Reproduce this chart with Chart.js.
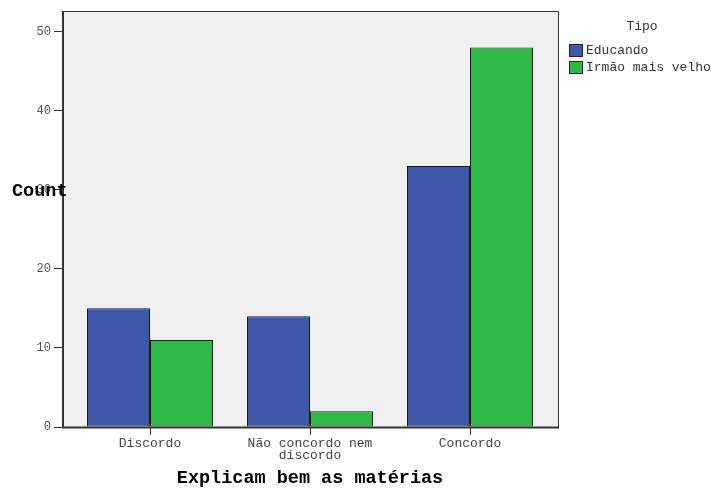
<!DOCTYPE html>
<html>
<head>
<meta charset="utf-8">
<script src="https://cdn.jsdelivr.net/npm/chart.js@4"></script>
<style>
  html, body { margin: 0; padding: 0; background: #fff; }
</style>
</head>
<body>
<canvas id="myChart" width="719" height="491"></canvas>
<script>
const categories = ["Discordo", ["Não concordo nem", "discordo"], "Concordo"];
const seriesNames = ["Educando", "Irmão mais velho"];
const educando = [15, 14, 33];
const irmao = [11, 2, 48];
const seriesColors = ["#3e58ac", "#2eb848"];
const yTicks = [0, 10, 20, 30, 40, 50];

const mono = '"Liberation Mono", "Courier New", monospace';
Chart.defaults.font.family = mono;

// plot frame sits 8px outside the category band, like the original
const framePad = 8;

const framePlugin = {
  id: "frame",
  beforeDraw(chart) {
    const ctx = chart.ctx;
    ctx.save();
    ctx.fillStyle = "#fff";
    ctx.fillRect(0, 0, chart.width, chart.height);
    ctx.restore();
  },
  beforeDatasetsDraw(chart) {
    const { ctx, chartArea } = chart;
    ctx.save();
    ctx.fillStyle = "#f0f0f0";
    ctx.fillRect(chartArea.left - framePad, chartArea.top,
      chartArea.right - chartArea.left + framePad * 2, chartArea.bottom - chartArea.top);
    ctx.restore();
  },
  afterDatasetsDraw(chart) {
    const { ctx, chartArea } = chart;
    const l = chartArea.left - framePad;
    const r = chartArea.right + framePad;
    const t = chartArea.top;
    const b = chartArea.bottom;
    ctx.save();
    ctx.strokeStyle = "#333";
    ctx.lineWidth = 1;
    ctx.beginPath();
    ctx.moveTo(l, t + 0.5);
    ctx.lineTo(r + 0.5, t + 0.5);
    ctx.lineTo(r + 0.5, b);
    ctx.stroke();
    ctx.lineWidth = 2;
    ctx.beginPath();
    ctx.moveTo(l + 1, t);
    ctx.lineTo(l + 1, b + 0.5);
    ctx.lineTo(r + 1, b + 0.5);
    ctx.stroke();
    ctx.restore();
  },
  afterDraw(chart) {
    const ctx = chart.ctx;
    ctx.save();
    // y axis title, horizontal as in the original
    ctx.fillStyle = "#000";
    ctx.font = "bold 18.5px " + mono;
    ctx.textAlign = "left";
    ctx.textBaseline = "middle";
    ctx.fillText("Count", 12, 191);

    // legend
    ctx.font = "13px " + mono;
    ctx.fillStyle = "#333";
    ctx.textAlign = "center";
    ctx.fillText("Tipo", 642, 27);
    ctx.textAlign = "left";
    chart.data.datasets.forEach((ds, i) => {
      const y = 44 + i * 17;
      ctx.fillStyle = ds.backgroundColor;
      ctx.fillRect(569.5, y + 0.5, 13, 12);
      ctx.strokeStyle = "#222";
      ctx.lineWidth = 1;
      ctx.strokeRect(569.5, y + 0.5, 13, 12);
      ctx.fillStyle = "#333";
      ctx.fillText(ds.label, 586, y + 7);
    });
    ctx.restore();
  },
};

const ctx = document.getElementById("myChart").getContext("2d");

const myChart = new Chart(ctx, {
  type: "bar",
  data: {
    labels: categories,
    datasets: [
      {
        label: seriesNames[0],
        data: educando,
        backgroundColor: seriesColors[0],
        borderColor: "#1a1a1a",
        borderWidth: 1,
        borderSkipped: false,
      },
      {
        label: seriesNames[1],
        data: irmao,
        backgroundColor: seriesColors[1],
        borderColor: "#1a1a1a",
        borderWidth: 1,
        borderSkipped: false,
      },
    ],
  },
  options: {
    responsive: false,
    animation: false,
    layout: { padding: { top: 11, right: 169, bottom: 0, left: 0 } },
    plugins: {
      legend: { display: false },
      tooltip: { enabled: false },
    },
    datasets: {
      bar: { categoryPercentage: 0.7875, barPercentage: 1 },
    },
    scales: {
      x: {
        offset: true,
        border: { display: false },
        grid: {
          offset: false,
          drawOnChartArea: false,
          drawTicks: true,
          tickLength: 8,
          color: "#333",
        },
        ticks: {
          color: "#444",
          padding: 3,
          maxRotation: 0,
          autoSkip: false,
          font: { size: 13, lineHeight: 0.92 },
        },
        title: {
          display: true,
          text: "Explicam bem as matérias",
          color: "#000",
          font: { size: 18.5, weight: "bold" },
          padding: { top: 0, bottom: 2 },
        },
        afterFit: (s) => { s.height = 64; },
      },
      y: {
        min: 0,
        max: 52.6,
        border: { display: false },
        grid: {
          drawOnChartArea: false,
          drawTicks: true,
          tickLength: 16,
          color: "#333",
        },
        ticks: {
          stepSize: 10,
          color: "#555",
          padding: 3,
          font: { size: 12 },
        },
        afterBuildTicks: (s) => {
          s.ticks = yTicks.map((v) => ({ value: v }));
        },
        afterFit: (s) => { s.width = 70; },
      },
    },
  },
  plugins: [framePlugin],
});
</script>
</body>
</html>
